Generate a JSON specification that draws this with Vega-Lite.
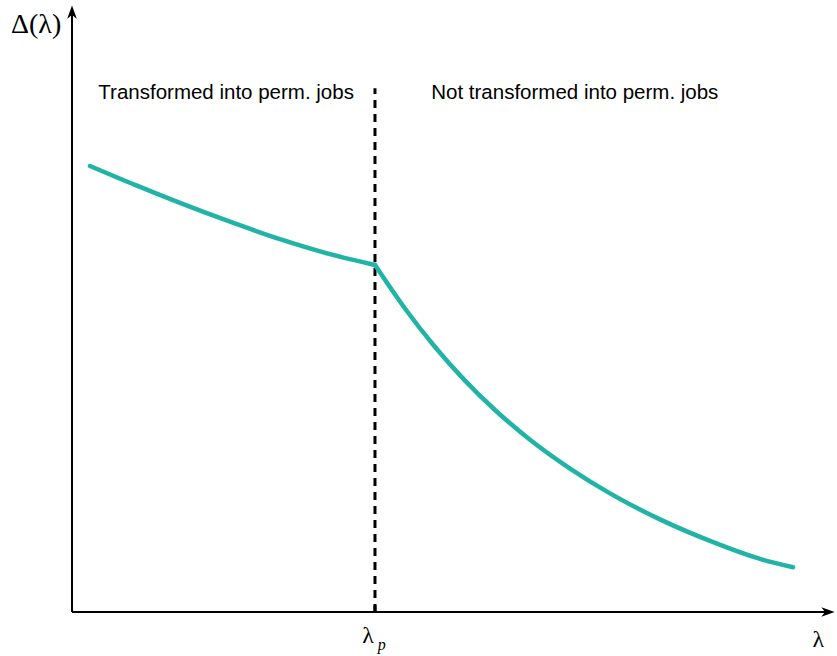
{
  "$schema": "https://vega.github.io/schema/vega-lite/v6.json",
  "width": 763,
  "height": 607,
  "autosize": {"type": "none"},
  "padding": {"left": 72, "top": 5, "right": 2, "bottom": 44},
  "background": "white",
  "config": {"view": {"stroke": null}},
  "datasets": {
    "curve": [
      {"seg": "left", "lam": 2.36, "delta": 73.48},
      {"seg": "left", "lam": 8.26, "delta": 70.36},
      {"seg": "left", "lam": 14.15, "delta": 67.4},
      {"seg": "left", "lam": 20.71, "delta": 64.3},
      {"seg": "left", "lam": 27.26, "delta": 61.42},
      {"seg": "left", "lam": 33.81, "delta": 58.95},
      {"seg": "left", "lam": 39.71, "delta": 57.17},
      {"seg": "right", "lam": 39.71, "delta": 57.17},
      {"seg": "right", "lam": 43.64, "delta": 50.0},
      {"seg": "right", "lam": 47.58, "delta": 43.66},
      {"seg": "right", "lam": 51.51, "delta": 38.12},
      {"seg": "right", "lam": 55.44, "delta": 33.28},
      {"seg": "right", "lam": 60.03, "delta": 28.37},
      {"seg": "right", "lam": 65.27, "delta": 23.62},
      {"seg": "right", "lam": 70.51, "delta": 19.54},
      {"seg": "right", "lam": 77.06, "delta": 15.26},
      {"seg": "right", "lam": 83.62, "delta": 11.71},
      {"seg": "right", "lam": 90.17, "delta": 8.75},
      {"seg": "right", "lam": 94.5, "delta": 7.38}
    ],
    "threshold": [{"lam": 39.71, "y0": 0, "y1": 86.3}],
    "tick": [{"lam": 39.71, "y0": 0, "y1": 1.1}],
    "xaxis": [{"x0": 0, "x1": 99.5, "y": 0}],
    "yaxis": [{"x": 0, "y0": 0, "y1": 99.5}],
    "regions": [
      {"lam": 20.2, "delta": 85.5, "label": "Transformed into perm. jobs"},
      {"lam": 65.9, "delta": 85.5, "label": "Not transformed into perm. jobs"}
    ]
  },
  "encoding": {},
  "layer": [
    {
      "data": {"name": "xaxis"},
      "mark": {"type": "rule", "color": "black", "strokeWidth": 2},
      "encoding": {
        "x": {"field": "x0", "type": "quantitative", "scale": {"domain": [0, 100], "nice": false, "zero": false}, "axis": null},
        "x2": {"field": "x1"},
        "y": {"field": "y", "type": "quantitative", "scale": {"domain": [0, 100], "nice": false, "zero": false}, "axis": null}
      }
    },
    {
      "data": {"name": "yaxis"},
      "mark": {"type": "rule", "color": "black", "strokeWidth": 2},
      "encoding": {
        "x": {"field": "x", "type": "quantitative"},
        "y": {"field": "y0", "type": "quantitative"},
        "y2": {"field": "y1"}
      }
    },
    {
      "data": {"values": [{"x": 0, "y": 98.6}]},
      "mark": {"type": "point", "filled": true, "color": "black", "opacity": 1, "size": 260, "shape": "M0,-1 L0.6,0.65 L0,0.2 L-0.6,0.65 Z"},
      "encoding": {
        "x": {"field": "x", "type": "quantitative"},
        "y": {"field": "y", "type": "quantitative"}
      }
    },
    {
      "data": {"values": [{"x": 98.9, "y": 0}]},
      "mark": {"type": "point", "filled": true, "color": "black", "opacity": 1, "size": 260, "shape": "M1,0 L-0.65,0.6 L-0.2,0 L-0.65,-0.6 Z"},
      "encoding": {
        "x": {"field": "x", "type": "quantitative"},
        "y": {"field": "y", "type": "quantitative"}
      }
    },
    {
      "data": {"name": "threshold"},
      "mark": {"type": "rule", "color": "black", "strokeWidth": 3, "strokeDash": [8, 6]},
      "encoding": {
        "x": {"field": "lam", "type": "quantitative"},
        "y": {"field": "y0", "type": "quantitative"},
        "y2": {"field": "y1"}
      }
    },
    {
      "data": {"name": "tick"},
      "mark": {"type": "rule", "color": "black", "strokeWidth": 3},
      "encoding": {
        "x": {"field": "lam", "type": "quantitative"},
        "y": {"field": "y0", "type": "quantitative"},
        "y2": {"field": "y1"}
      }
    },
    {
      "data": {"name": "curve"},
      "mark": {"type": "line", "color": "#22b3a7", "strokeWidth": 4.5, "interpolate": "monotone", "strokeJoin": "round", "strokeCap": "round"},
      "encoding": {
        "x": {"field": "lam", "type": "quantitative"},
        "y": {"field": "delta", "type": "quantitative"},
        "detail": {"field": "seg", "type": "nominal"}
      }
    },
    {
      "data": {"name": "regions"},
      "mark": {"type": "text", "font": "Liberation Sans", "fontSize": 20.5, "color": "black", "align": "center", "baseline": "middle"},
      "encoding": {
        "x": {"field": "lam", "type": "quantitative"},
        "y": {"field": "delta", "type": "quantitative"},
        "text": {"field": "label"}
      }
    },
    {
      "data": {"values": [{"x": -4.7, "y": 96.7, "t": "Δ(λ)", "s": 28}, {"x": 97.8, "y": -4.6, "t": "λ", "s": 24}, {"x": 38.8, "y": -4.0, "t": "λ", "s": 24}]},
      "mark": {"type": "text", "font": "Liberation Serif", "color": "black", "align": "center", "baseline": "middle"},
      "encoding": {
        "x": {"field": "x", "type": "quantitative"},
        "y": {"field": "y", "type": "quantitative"},
        "text": {"field": "t"},
        "size": {"field": "s", "type": "quantitative", "scale": null, "legend": null}
      }
    },
    {
      "data": {"values": [{"x": 40.6, "y": -5.4, "t": "p"}]},
      "mark": {"type": "text", "font": "Liberation Serif", "fontStyle": "italic", "fontSize": 16, "color": "black", "align": "center", "baseline": "middle"},
      "encoding": {
        "x": {"field": "x", "type": "quantitative"},
        "y": {"field": "y", "type": "quantitative"},
        "text": {"field": "t"}
      }
    }
  ]
}
